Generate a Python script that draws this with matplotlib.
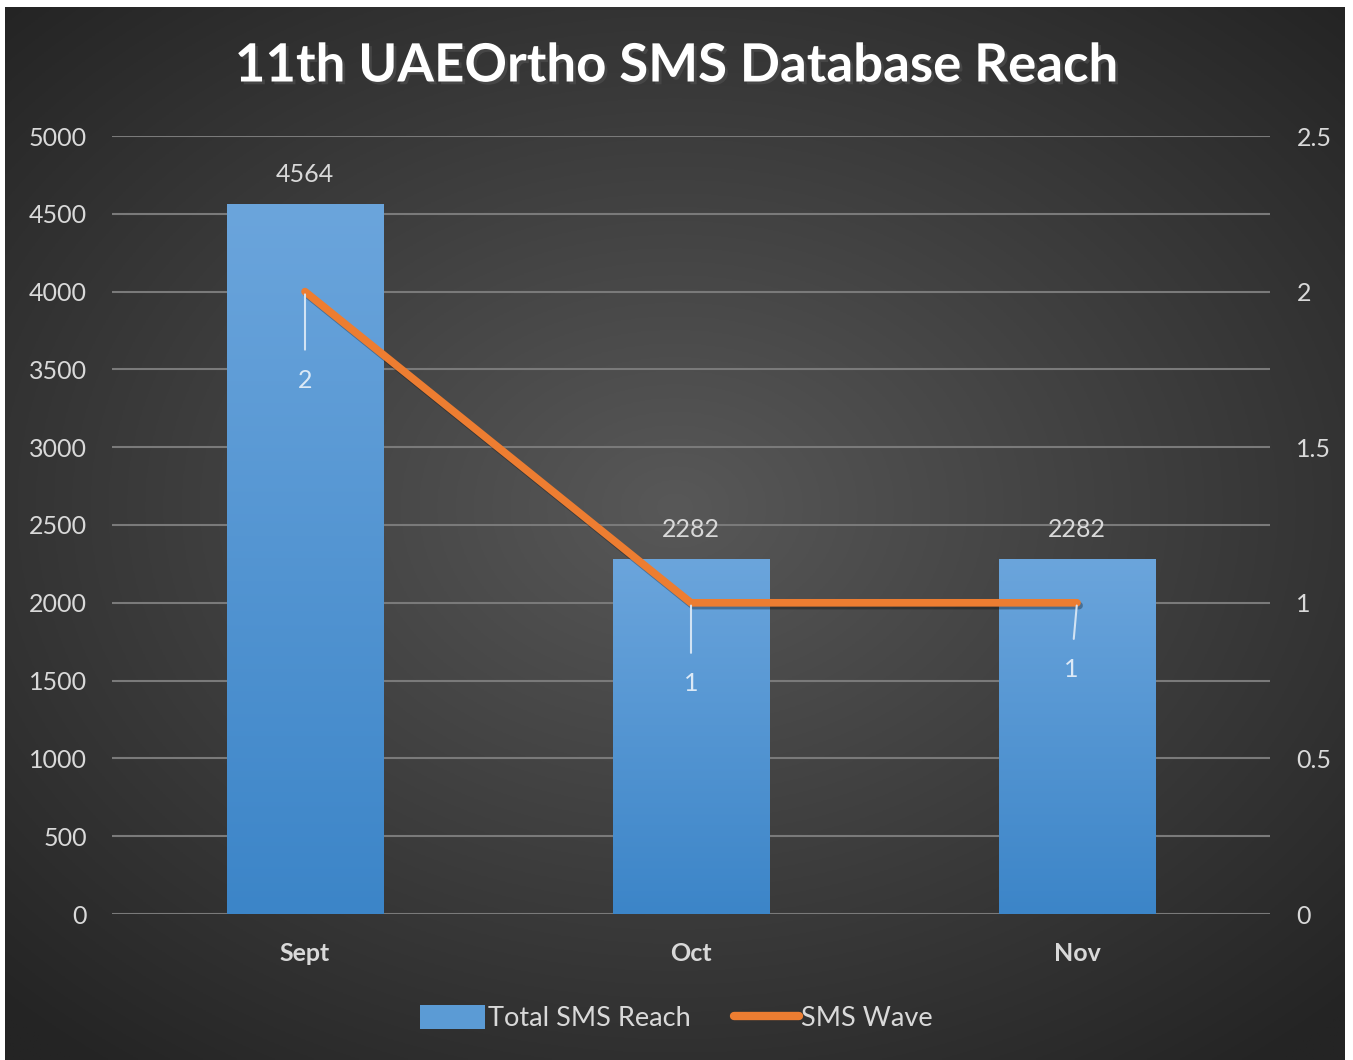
import numpy as np
import matplotlib
matplotlib.use("Agg")
import matplotlib.pyplot as plt
from matplotlib import patheffects as pe
from matplotlib.patches import Patch
from matplotlib.lines import Line2D

# ---- data ----
months = ["Sept", "Oct", "Nov"]
total_reach = [4564, 2282, 2282]
sms_wave = [2, 1, 1]
left_ticks = [0, 500, 1000, 1500, 2000, 2500, 3000, 3500, 4000, 4500, 5000]
right_ticks = [0, 0.5, 1, 1.5, 2, 2.5]
right_labels = ["0", "0.5", "1", "1.5", "2", "2.5"]
# where the wave labels sit relative to their point (pixels)
wave_label_offsets = [(0, -89), (0, -81), (-6, -67)]

TXT = "#d9d9d9"; GRID = "#7a7a7a"; ORANGE = "#ed7d31"
FONT = "Lato"
plt.rcParams["font.family"] = [FONT, "DejaVu Sans"]

W, H = 1353, 1060
fig = plt.figure(figsize=(W / 100, H / 100), dpi=100, facecolor="white")

# dark radial-gradient panel (white strip at top/left/right like the screenshot)
bg = fig.add_axes([5 / W, 0, (1345 - 5) / W, (H - 7) / H], zorder=-10)
gx, gy = np.meshgrid(np.linspace(-1, 1, 400), np.linspace(-1, 1, 400))
r = np.clip(np.sqrt((gx * 0.95) ** 2 + ((gy + 0.05) * 1.0) ** 2) / 1.35, 0, 1)
c0 = np.array([0x58, 0x58, 0x58]) / 255; c1 = np.array([0x24, 0x24, 0x24]) / 255
img = c0[None, None, :] * (1 - r[..., None]) + c1[None, None, :] * r[..., None]
bg.imshow(img, extent=[0, 1, 0, 1], aspect="auto")
bg.set_axis_off()

ax = fig.add_axes([112 / W, 146 / H, (1270 - 112) / W, (914 - 136) / H])
ax.patch.set_alpha(0)
x = np.arange(len(months))
bars = ax.bar(x, total_reach, width=0.405, color="#5b9bd5", zorder=2)
grad = np.linspace(0, 1, 256)[:, None]
top = np.array([0x6b, 0xa5, 0xdc]) / 255; bot = np.array([0x3c, 0x85, 0xc8]) / 255
gimg = top[None, None, :] * (1 - grad[..., None]) + bot[None, None, :] * grad[..., None]
for b in bars:
    x0, y0, bw, bh = b.get_x(), b.get_y(), b.get_width(), b.get_height()
    im = ax.imshow(gimg, extent=[x0, x0 + bw, y0, y0 + bh], aspect="auto", zorder=3)
    im.set_clip_path(b)
ax.set_xlim(-0.5, 2.5)
ax.set_ylim(0, 5000)
ax.set_yticks(left_ticks)
ax.set_yticklabels([str(t) for t in left_ticks])
ax.set_xticks(x)
ax.set_xticklabels(months, fontweight="bold")
ax.grid(axis="y", color=GRID, lw=1.5, zorder=0)
ax.set_axisbelow(True)
for s in ax.spines.values():
    s.set_visible(False)
ax.tick_params(axis="y", length=0, pad=18, labelsize=18, labelcolor=TXT)
ax.tick_params(axis="x", length=0, pad=20, labelsize=18, labelcolor=TXT)

for b, v in zip(bars, total_reach):
    ax.annotate(str(v), (b.get_x() + b.get_width() / 2, v), xytext=(0, 18),
                textcoords="offset pixels", ha="center", va="bottom",
                fontsize=18, color=TXT, zorder=5)

ax2 = ax.twinx()
ax2.set_ylim(0, 2.5)
ax2.set_yticks(right_ticks)
ax2.set_yticklabels(right_labels)
for s in ax2.spines.values():
    s.set_visible(False)
ax2.tick_params(axis="y", length=0, pad=19, labelsize=18, labelcolor=TXT)
ax2.plot(x, sms_wave, color=ORANGE, lw=5.5, solid_capstyle="round", zorder=4,
         path_effects=[pe.SimpleLineShadow(offset=(1.5, -2), alpha=0.3), pe.Normal()])
for xi, v, (dx, dy) in zip(x, sms_wave, wave_label_offsets):
    ax2.annotate(str(v), (xi, v), xytext=(dx, dy), textcoords="offset pixels",
                 ha="center", va="center", fontsize=18, color="#dce9f6", zorder=5,
                 arrowprops=dict(arrowstyle="-", color="#d2e3f3", lw=1.5,
                                 shrinkA=12, shrinkB=2))

fig.text(0.5, (H - 66) / H, "11th UAEOrtho SMS Database Reach", ha="center", va="center",
         fontsize=38, fontweight="bold", color="white",
         path_effects=[pe.withSimplePatchShadow(offset=(2, -2), alpha=0.7)])

handles = [Patch(facecolor="#5b9bd5", edgecolor="none"),
           Line2D([0], [0], color=ORANGE, lw=6, solid_capstyle="round")]
leg = fig.legend(handles, ["Total SMS Reach", "SMS Wave"], loc="center",
                 bbox_to_anchor=(0.5, (H - 1018) / H), ncol=2, frameon=False,
                 fontsize=19.5, labelcolor=TXT, handlelength=2.4, handletextpad=0.1,
                 columnspacing=1.6, handleheight=1.0)

fig.savefig("out.png", dpi=100, facecolor="white")
